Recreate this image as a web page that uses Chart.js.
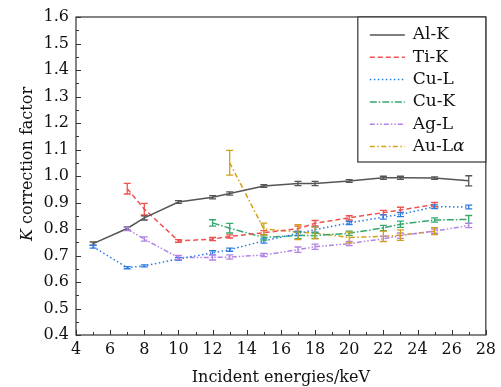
<!DOCTYPE html>
<html>
<head>
<meta charset="utf-8">
<script src="https://cdn.jsdelivr.net/npm/chart.js@4.4.0/dist/chart.umd.min.js"></script>
<style>
  html, body { margin: 0; padding: 0; background: #fff; }
  #wrap { width: 501px; height: 387px; }
</style>
</head>
<body>
<div id="wrap"><canvas id="kChart"></canvas></div>
<script>
// Incident energy (keV), K correction factor and its error for each line
const alkEnergy = [5, 7, 8, 10, 12, 13, 15, 17, 18, 20, 22, 23, 25, 27];
const alkValue  = [0.745, 0.802, 0.842, 0.902, 0.920, 0.934, 0.962, 0.972, 0.972, 0.981, 0.993, 0.993, 0.992, 0.982];
const alkError  = [0.006, 0.006, 0.008, 0.005, 0.006, 0.006, 0.005, 0.008, 0.008, 0.005, 0.006, 0.006, 0.005, 0.019];

const tikEnergy = [7, 8, 10, 12, 13, 15, 17, 18, 20, 22, 23, 25];
const tikValue  = [0.952, 0.875, 0.755, 0.762, 0.772, 0.786, 0.801, 0.822, 0.842, 0.862, 0.872, 0.892];
const tikError  = [0.020, 0.022, 0.005, 0.006, 0.006, 0.008, 0.010, 0.010, 0.008, 0.008, 0.010, 0.008];

const culEnergy = [5, 7, 8, 10, 12, 13, 15, 17, 18, 20, 22, 23, 25, 27];
const culValue  = [0.733, 0.654, 0.661, 0.687, 0.710, 0.722, 0.755, 0.783, 0.798, 0.823, 0.845, 0.855, 0.884, 0.883];
const culError  = [0.005, 0.004, 0.004, 0.005, 0.008, 0.006, 0.008, 0.008, 0.010, 0.006, 0.008, 0.008, 0.007, 0.007];

const cukEnergy = [12, 13, 15, 17, 18, 20, 22, 23, 25, 27];
const cukValue  = [0.823, 0.803, 0.768, 0.776, 0.775, 0.784, 0.804, 0.818, 0.834, 0.836];
const cukError  = [0.012, 0.018, 0.010, 0.012, 0.010, 0.008, 0.010, 0.012, 0.008, 0.015];

const aglEnergy = [7, 8, 10, 12, 13, 15, 17, 18, 20, 22, 23, 25, 27];
const aglValue  = [0.800, 0.762, 0.692, 0.693, 0.694, 0.702, 0.722, 0.733, 0.745, 0.763, 0.775, 0.792, 0.813];
const aglError  = [0.006, 0.008, 0.008, 0.010, 0.008, 0.006, 0.010, 0.010, 0.008, 0.010, 0.010, 0.008, 0.008];

const aulEnergy = [13, 15, 17, 18, 20, 22, 23, 25];
const aulValue  = [1.050, 0.800, 0.788, 0.785, 0.768, 0.772, 0.777, 0.792];
const aulError  = [0.047, 0.022, 0.028, 0.022, 0.020, 0.020, 0.020, 0.013];

const xTicks = [4, 6, 8, 10, 12, 14, 16, 18, 20, 22, 24, 26, 28];
const yTicks = [0.4, 0.5, 0.6, 0.7, 0.8, 0.9, 1.0, 1.1, 1.2, 1.3, 1.4, 1.5, 1.6];

const FONT = '"DejaVu Serif", serif';

function points(xs, ys) {
    return xs.map((x, i) => ({ x: x, y: ys[i] }));
}

const series = [
    { label: 'Al-K', x: alkEnergy, y: alkValue, err: alkError, color: '#555555', dash: [] },
    { label: 'Ti-K', x: tikEnergy, y: tikValue, err: tikError, color: '#f0524f', dash: [5, 3] },
    { label: 'Cu-L', x: culEnergy, y: culValue, err: culError, color: '#2a7be3', dash: [1.5, 2.5] },
    { label: 'Cu-K', x: cukEnergy, y: cukValue, err: cukError, color: '#34a96c', dash: [7, 2, 1.5, 2] },
    { label: 'Ag-L', x: aglEnergy, y: aglValue, err: aglError, color: '#b382e6', dash: [5, 2, 1.5, 2, 1.5, 2] },
    { label: 'Au-L|α', x: aulEnergy, y: aulValue, err: aulError, color: '#d6a016', dash: [5, 2.5, 1.5, 2.5] }
];

// text with italic pieces: parts = [[text, italic], ...]
function drawRich(ctx, parts, x, y, size, align) {
    let total = 0;
    parts.forEach(p => {
        ctx.font = (p[1] ? 'italic ' : '') + size + 'px ' + FONT;
        total += ctx.measureText(p[0]).width;
    });
    let cx = align === 'center' ? x - total / 2 : x;
    ctx.textAlign = 'left';
    ctx.textBaseline = 'middle';
    parts.forEach(p => {
        ctx.font = (p[1] ? 'italic ' : '') + size + 'px ' + FONT;
        ctx.fillText(p[0], cx, y);
        cx += ctx.measureText(p[0]).width;
    });
}

const errorBars = {
    id: 'errorBars',
    afterDatasetsDraw(chart) {
        const ctx = chart.ctx;
        const xs = chart.scales.x, ys = chart.scales.y;
        ctx.save();
        series.forEach(s => {
            ctx.strokeStyle = s.color;
            ctx.lineWidth = 1.3;
            ctx.setLineDash([]);
            s.x.forEach((xv, i) => {
                const px = xs.getPixelForValue(xv);
                const top = ys.getPixelForValue(s.y[i] + s.err[i]);
                const bot = ys.getPixelForValue(s.y[i] - s.err[i]);
                ctx.beginPath();
                ctx.moveTo(px, top); ctx.lineTo(px, bot);
                ctx.moveTo(px - 3.5, top); ctx.lineTo(px + 3.5, top);
                ctx.moveTo(px - 3.5, bot); ctx.lineTo(px + 3.5, bot);
                ctx.stroke();
            });
        });
        ctx.restore();
    }
};

const frame = {
    id: 'frame',
    afterDraw(chart) {
        const ctx = chart.ctx;
        const a = chart.chartArea;
        const xs = chart.scales.x, ys = chart.scales.y;
        ctx.save();
        ctx.strokeStyle = '#333';
        ctx.lineWidth = 1.2;
        ctx.setLineDash([]);
        ctx.strokeRect(a.left, a.top, a.right - a.left, a.bottom - a.top);

        // inward ticks, minor between majors
        ctx.lineWidth = 1;
        ctx.beginPath();
        for (let v = 4; v <= 28; v++) {
            const px = Math.round(xs.getPixelForValue(v)) + 0.5;
            const len = v % 2 === 0 ? 5 : 3;
            ctx.moveTo(px, a.bottom); ctx.lineTo(px, a.bottom - len);
        }
        for (let i = 0; i <= 24; i++) {
            const py = Math.round(ys.getPixelForValue(0.4 + i * 0.05)) + 0.5;
            const len = i % 2 === 0 ? 5 : 3;
            ctx.moveTo(a.left, py); ctx.lineTo(a.left + len, py);
        }
        ctx.stroke();

        // axis titles
        ctx.fillStyle = '#111';
        drawRich(ctx, [['Incident energies/keV', false]], (a.left + a.right) / 2, 378, 16, 'center');
        ctx.save();
        ctx.translate(28, (a.top + a.bottom) / 2 - 12);
        ctx.rotate(-Math.PI / 2);
        drawRich(ctx, [['K', true], [' correction factor', false]], 0, 0, 16, 'center');
        ctx.restore();

        // legend box in the upper right corner
        const bx = a.right - 128, by = a.top;
        ctx.fillStyle = '#fff';
        ctx.fillRect(bx, by, 128, 145);
        ctx.strokeStyle = '#333';
        ctx.lineWidth = 1.2;
        ctx.strokeRect(bx, by, 128, 145);
        series.forEach((s, i) => {
            const ly = by + 18 + i * 22.3;
            ctx.strokeStyle = s.color;
            ctx.lineWidth = 1.5;
            ctx.setLineDash(s.dash);
            ctx.beginPath();
            ctx.moveTo(bx + 12, ly); ctx.lineTo(bx + 47, ly);
            ctx.stroke();
            ctx.setLineDash([]);
            ctx.fillStyle = '#111';
            const bits = s.label.split('|');
            const parts = bits.length > 1 ? [[bits[0], false], [bits[1], true]] : [[bits[0], false]];
            drawRich(ctx, parts, bx + 55, ly, 17, 'left');
        });
        ctx.restore();
    }
};

const ctx = document.getElementById('kChart').getContext('2d');
new Chart(ctx, {
    type: 'line',
    data: {
        datasets: series.map(s => ({
            label: s.label.replace('|', ''),
            data: points(s.x, s.y),
            borderColor: s.color,
            backgroundColor: s.color,
            borderWidth: 1.5,
            borderDash: s.dash,
            pointRadius: 0,
            fill: false,
            tension: 0
        }))
    },
    options: {
        responsive: true,
        maintainAspectRatio: false,
        animation: false,
        layout: { padding: { top: 17, right: 10, left: 0, bottom: 0 } },
        plugins: {
            legend: { display: false },
            tooltip: { enabled: false }
        },
        scales: {
            x: {
                type: 'linear',
                min: 4,
                max: 28,
                afterBuildTicks: scale => { scale.ticks = xTicks.map(v => ({ value: v })); },
                afterFit: scale => { scale.height = 52; },
                grid: { display: false, drawTicks: false },
                border: { display: false },
                ticks: {
                    padding: 5,
                    color: '#111',
                    font: { family: FONT, size: 16 },
                    maxRotation: 0
                }
            },
            y: {
                min: 0.4,
                max: 1.6,
                afterBuildTicks: scale => { scale.ticks = yTicks.map(v => ({ value: v })); },
                afterFit: scale => { scale.width = 76; },
                grid: { display: false, drawTicks: false },
                border: { display: false },
                ticks: {
                    padding: 7,
                    color: '#111',
                    font: { family: FONT, size: 16 },
                    callback: function(value) {
                        return value.toFixed(1);
                    }
                }
            }
        }
    },
    plugins: [errorBars, frame]
});
</script>
</body>
</html>
